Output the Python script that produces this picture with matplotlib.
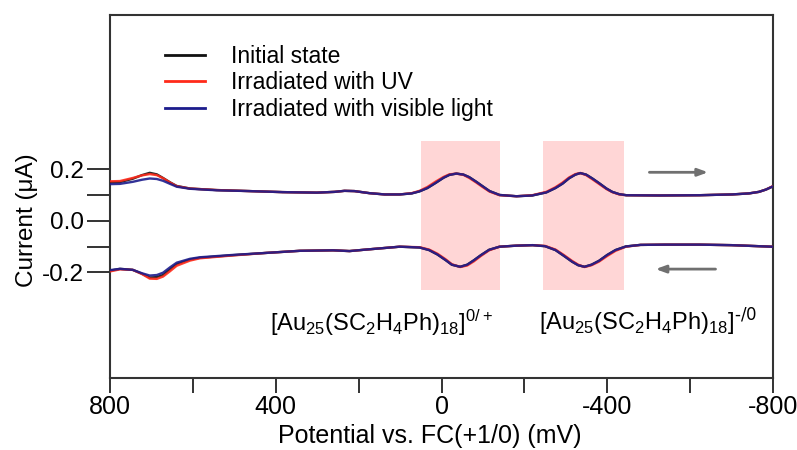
import matplotlib
matplotlib.use("Agg")
import matplotlib.pyplot as plt

plt.rcParams['font.family'] = ['Liberation Sans', 'DejaVu Sans']
plt.rcParams['mathtext.default'] = 'regular'

# ---- data (potential in mV, current in uA) ----
E_fwd = [800, 776, 745, 723, 704, 687, 672, 655, 639, 607, 542, 463, 383, 301, 258, 234, 210,
         174, 137, 101, 72, 53, 34, 14, -5, -19, -36, -53, -67, -84, -99, -116, -140, -181,
         -219, -253, -275, -292, -308, -323, -335, -349, -364, -381, -398, -412, -429, -446,
         -525, -622, -701, -742, -766, -783, -798]
I_fwd_initial = [0.150, 0.151, 0.164, 0.178, 0.187, 0.181, 0.167, 0.150, 0.136, 0.126, 0.120,
                 0.116, 0.112, 0.110, 0.113, 0.117, 0.116, 0.108, 0.103, 0.103, 0.107, 0.115,
                 0.128, 0.148, 0.168, 0.179, 0.184, 0.180, 0.170, 0.152, 0.135, 0.116, 0.101,
                 0.096, 0.099, 0.111, 0.128, 0.145, 0.166, 0.180, 0.186, 0.180, 0.165, 0.146,
                 0.126, 0.113, 0.104, 0.100, 0.099, 0.100, 0.103, 0.107, 0.113, 0.122, 0.133]
I_fwd_uv = [0.154, 0.155, 0.167, 0.177, 0.182, 0.178, 0.166, 0.149, 0.135, 0.126, 0.120,
            0.116, 0.112, 0.110, 0.113, 0.117, 0.116, 0.108, 0.103, 0.103, 0.108, 0.117,
            0.132, 0.153, 0.171, 0.181, 0.184, 0.179, 0.167, 0.149, 0.132, 0.114, 0.100,
            0.096, 0.100, 0.113, 0.131, 0.149, 0.169, 0.182, 0.186, 0.178, 0.162, 0.143,
            0.124, 0.112, 0.103, 0.100, 0.099, 0.100, 0.103, 0.107, 0.113, 0.122, 0.134]
I_fwd_vis = [0.143, 0.144, 0.152, 0.160, 0.165, 0.163, 0.156, 0.144, 0.133, 0.125, 0.119,
             0.116, 0.112, 0.110, 0.113, 0.117, 0.116, 0.108, 0.103, 0.103, 0.107, 0.115,
             0.128, 0.148, 0.168, 0.179, 0.184, 0.180, 0.170, 0.152, 0.135, 0.116, 0.101,
             0.096, 0.099, 0.111, 0.128, 0.145, 0.166, 0.180, 0.186, 0.180, 0.165, 0.146,
             0.126, 0.113, 0.104, 0.100, 0.099, 0.100, 0.103, 0.107, 0.113, 0.122, 0.133]

E_rev = [-798, -700, -622, -540, -480, -445, -420, -400, -380, -362, -345, -330, -315, -295,
         -275, -250, -220, -180, -140, -115, -95, -78, -62, -45, -25, -10, 10, 30, 53, 101,
         181, 222, 262, 342, 422, 504, 583, 607, 639, 655, 672, 687, 704, 723, 745, 776, 800]
I_rev_initial = [-0.100, -0.094, -0.092, -0.092, -0.093, -0.099, -0.113, -0.132, -0.155,
                 -0.170, -0.178, -0.172, -0.158, -0.135, -0.113, -0.098, -0.094, -0.096,
                 -0.100, -0.112, -0.133, -0.153, -0.170, -0.178, -0.170, -0.152, -0.130,
                 -0.113, -0.103, -0.100, -0.111, -0.117, -0.114, -0.116, -0.124, -0.133,
                 -0.143, -0.150, -0.168, -0.188, -0.210, -0.218, -0.220, -0.205, -0.190,
                 -0.186, -0.193]
I_rev_uv = [-0.100, -0.094, -0.092, -0.092, -0.093, -0.100, -0.116, -0.136, -0.158,
            -0.172, -0.179, -0.170, -0.155, -0.132, -0.111, -0.097, -0.094, -0.096,
            -0.100, -0.114, -0.136, -0.157, -0.173, -0.179, -0.168, -0.149, -0.127,
            -0.111, -0.102, -0.100, -0.111, -0.117, -0.114, -0.116, -0.124, -0.134,
            -0.145, -0.154, -0.174, -0.195, -0.216, -0.225, -0.224, -0.206, -0.190,
            -0.188, -0.196]
I_rev_vis = [-0.100, -0.094, -0.092, -0.092, -0.093, -0.099, -0.113, -0.132, -0.155,
             -0.170, -0.178, -0.172, -0.158, -0.135, -0.113, -0.098, -0.094, -0.096,
             -0.100, -0.112, -0.133, -0.153, -0.170, -0.178, -0.170, -0.152, -0.130,
             -0.113, -0.103, -0.100, -0.111, -0.117, -0.114, -0.116, -0.124, -0.132,
             -0.141, -0.147, -0.162, -0.180, -0.201, -0.210, -0.212, -0.203, -0.190,
             -0.186, -0.191]

series_labels = ["Initial state", "Irradiated with UV", "Irradiated with visible light"]
series_colors = ["#111111", "#ff2a1a", "#1c1c8c"]

x_major = [800, 400, 0, -400, -800]
x_minor = [600, 200, -200, -600]
y_major = [0.2, 0.0, -0.2]
y_minor = [0.1, -0.1]

band_ranges = [(50, -140), (-245, -440)]
band_y = (-0.27, 0.31)
band_labels = [r"[Au$_{25}$(SC$_2$H$_4$Ph)$_{18}$]$^{0/+}$",
               r"[Au$_{25}$(SC$_2$H$_4$Ph)$_{18}$]$^{\text{-/0}}$"]
band_label_pos = [(145, -0.397), (-498, -0.389)]

# ---- figure ----
fig = plt.figure(figsize=(7.97, 4.5), dpi=100)
ax = fig.add_axes([110/797, 1-378/450, 663/797, 363/450])

for (x0, x1) in band_ranges:
    ax.fill_between([x0, x1], band_y[0], band_y[1], color="#ffd6d6", lw=0, zorder=1)

fwd = [I_fwd_initial, I_fwd_uv, I_fwd_vis]
rev = [I_rev_initial, I_rev_uv, I_rev_vis]
for i in range(3):
    ax.plot(E_fwd, fwd[i], color=series_colors[i], lw=1.7, label=series_labels[i],
            zorder=3 + i, alpha=0.9)
    ax.plot(E_rev, rev[i], color=series_colors[i], lw=1.7, zorder=3 + i, alpha=0.9)

ax.set_xlim(800, -800)
ax.set_ylim(-0.61, 0.80)

ax.set_xticks(x_major)
ax.set_xticklabels([str(v) for v in x_major])
ax.set_xticks(x_minor, minor=True)
ax.set_yticks(y_major)
ax.set_yticklabels(["%.1f" % v for v in y_major])
ax.set_yticks(y_minor, minor=True)

for s in ax.spines.values():
    s.set_linewidth(1.5)
    s.set_color("#333333")
ax.tick_params(axis='x', which='both', direction='out', length=10.5, width=1.4,
               color="#333333", labelsize=18, pad=2)
ax.tick_params(axis='y', which='both', direction='out', length=16.5, width=1.4,
               color="#333333", labelsize=17.5, pad=2)

ax.set_xlabel("Potential vs. FC(+1/0) (mV)", fontsize=18)
ax.xaxis.set_label_coords(0.483, -0.127)
ax.set_ylabel("Current (\u03bcA)", fontsize=17.5)
ax.yaxis.set_label_coords(-0.109, 0.435)

# arrows
ax.annotate("", xy=(-650, 0.189), xytext=(-495, 0.189),
            arrowprops=dict(arrowstyle="-|>,head_length=0.6,head_width=0.22",
                            color="#707070", lw=2))
ax.annotate("", xy=(-510, -0.187), xytext=(-668, -0.187),
            arrowprops=dict(arrowstyle="-|>,head_length=0.6,head_width=0.22",
                            color="#707070", lw=2))

for lab, (px, py) in zip(band_labels, band_label_pos):
    ax.text(px, py, lab, fontsize=17, ha='center', va='center')

leg = ax.legend(loc='upper left', bbox_to_anchor=(0.083, 0.918), frameon=False,
                fontsize=16.5, handlelength=1.75, handletextpad=1.15, labelspacing=0.16,
                borderpad=0, borderaxespad=0)
for ln in leg.get_lines():
    ln.set_linewidth(2)
    ln.set_alpha(1)

fig.savefig("out.png", dpi=100)
